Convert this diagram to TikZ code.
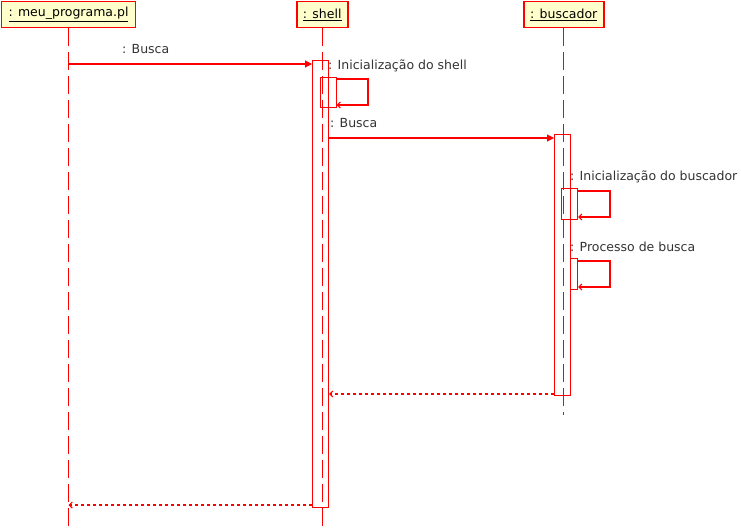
\documentclass[tikz,border=0pt]{standalone}
\usepackage{fontspec}
\setmainfont{DejaVu Sans}
\usetikzlibrary{arrows.meta}
\definecolor{umlred}{RGB}{255,0,0}
\definecolor{headfill}{RGB}{255,255,204}
\definecolor{labelgray}{RGB}{51,51,51}
\begin{document}
\begin{tikzpicture}[x=1pt,y=-1pt,
  every node/.style={font=\fontsize{12.5}{15}\selectfont},
  head/.style={draw=umlred, fill=headfill, line width=1.5pt, minimum height=26pt,
    inner sep=0pt, anchor=north west},
  lifeline/.style={draw=umlred, line width=1.1pt, dash pattern=on 18pt off 6pt},
  activation/.style={draw=umlred, line width=1.1pt, inner sep=0pt, anchor=north west},
  call/.style={draw=umlred, line width=1.1pt, -{Triangle[length=7pt,width=7pt]}},
  selfcall/.style={draw=umlred, line width=1.1pt, -{Straight Barb[length=3pt,width=6pt]}},
  reply/.style={draw=umlred, line width=1.1pt, dash pattern=on 3pt off 3pt,
    -{Straight Barb[length=3pt,width=6pt]}},
  msg/.style={text=labelgray, inner sep=0pt, anchor=base west}
]
\useasboundingbox (0,0) rectangle (741,528);

% object heads
\node[head, minimum width=134pt] (m) at (0.75,0.75) {\underline{: meu\_programa.pl}};
\node[head, minimum width=51pt]  (s) at (296,0.75) {\underline{: shell}};
\node[head, minimum width=80pt]  (b) at (523,0.75) {\underline{: buscador}};

% lifelines
\draw[lifeline] (m.south) -- (m.south |- 0,528);
\draw[lifeline] (s.south) -- (s.south |- 0,528);
\draw[lifeline] (b.south) -- (b.south |- 0,415);

% activation bars
\node[activation, minimum width=16pt, minimum height=447pt] (sa)  at (312,60)  {};
\node[activation, minimum width=16pt, minimum height=30pt]  (sn)  at (319.5,77) {};
\node[activation, minimum width=16pt, minimum height=261pt] (ba)  at (554,134) {};
\node[activation, minimum width=16pt, minimum height=31pt]  (bn1) at (561,188) {};
\node[activation, minimum width=7pt,  minimum height=31pt]  (bn2) at (570,258) {};

% messages
\draw[call] (m.south |- 0,64) -- (sa.west |- 0,64);
\draw[selfcall] (sn.east |- 0,79) -- (368,79) -- (368,105) -- (sn.east |- 0,105);
\draw[call] (sa.east |- 0,138) -- (ba.west |- 0,138);
\draw[selfcall] (bn1.east |- 0,191) -- (610,191) -- (610,217) -- (bn1.east |- 0,217);
\draw[selfcall] (bn2.east |- 0,261) -- (610,261) -- (610,287) -- (bn2.east |- 0,287);
\draw[reply] (ba.west |- 0,394) -- (sa.east |- 0,394);
\draw[reply] (sa.west |- 0,505) -- (m.south |- 0,505);

% message labels
\node[msg] (l1) at (122,53)   {: Busca};
\node[msg] (l2) at (328,69.5) {: Inicialização do shell};
\node[msg] (l3) at (330,127)  {: Busca};
\node[msg] (l4) at (570,180)  {: Inicialização do buscador};
\node[msg] (l5) at (570,251)  {: Processo de busca};
\end{tikzpicture}
\end{document}
